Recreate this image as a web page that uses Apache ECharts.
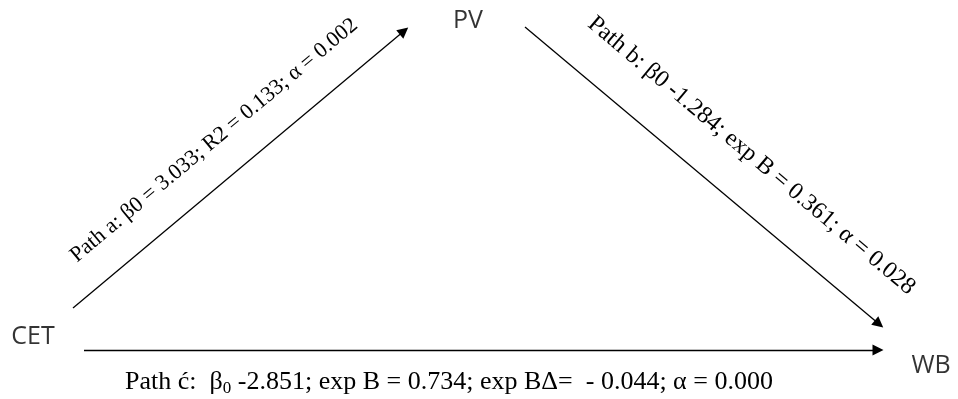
<!DOCTYPE html>
<html>
<head>
<meta charset="utf-8">
<script src="https://cdn.jsdelivr.net/npm/echarts@6/dist/echarts.min.js"></script>
<style>
  html, body { margin: 0; padding: 0; background: #fff; }
  #chart { width: 958px; height: 399px; }
</style>
</head>
<body>
<div id="chart"></div>
<script>
  // nodes of the path diagram (position on the 958 x 399 layout)
  const nodeNames = ['CET', 'PV', 'WB'];
  const nodeX = [33, 468, 931];
  const nodeY = [337, 21, 366];

  // arrows: start and end point of every path
  const pathNames = ['a', 'b', 'c'];
  const pathFrom = [[73, 308], [525, 27], [84, 350]];
  const pathTo = [[404, 31], [879, 324], [878, 350]];
  const pathTexts = [
    'Path a: β0 = 3.033; R2 = 0.133; α = 0.002',
    'Path b: β0 -1.284; exp B = 0.361; α = 0.028',
    '{t|Path ć:  β}{s|0}{t| -2.851; exp B = 0.734; exp BΔ=  - 0.044; α = 0.000}'
  ];

  const serif = '"Liberation Serif", "DejaVu Serif", serif';

  // label placement for each path (side of the line, gap, shift along the line)
  const labelPos = ['middle', 'middle', 'insideMiddleBottom'];
  const labelGap = [27, 35, 18];
  const labelPad = [[0, 0, 0, 0], [0, 0, 0, 50], [0, 64, 0, 0]];
  const labelSize = [22, 24, 26];

  const myChart = echarts.init(document.getElementById('chart'));

  const option = {
    animation: false,
    grid: { left: 0, right: 0, top: 0, bottom: 0 },
    xAxis: { type: 'value', min: 0, max: 958, show: false },
    yAxis: { type: 'value', min: 0, max: 399, inverse: true, show: false },
    series: [
      {
        type: 'lines',
        coordinateSystem: 'cartesian2d',
        symbol: ['none', 'triangle'],
        symbolSize: 11,
        lineStyle: { color: '#000', width: 1.3, opacity: 1, curveness: 0 },
        data: pathNames.map((n, i) => ({
          name: n,
          coords: [pathFrom[i], pathTo[i]],
          label: {
            show: true,
            position: labelPos[i],
            distance: labelGap[i],
            padding: labelPad[i],
            formatter: pathTexts[i],
            color: '#000',
            fontFamily: serif,
            fontSize: labelSize[i],
            rich: {
              t: { fontFamily: serif, fontSize: 26, lineHeight: 29, color: '#000' },
              s: { fontFamily: serif, fontSize: 17, lineHeight: 17, verticalAlign: 'bottom', color: '#000' }
            }
          }
        }))
      },
      {
        type: 'scatter',
        symbolSize: 0,
        silent: true,
        label: {
          show: true,
          position: 'inside',
          formatter: '{b}',
          color: '#000',
          fontFamily: '"Open Sans", "Noto Sans", sans-serif',
          fontSize: 25
        },
        data: nodeNames.map((n, i) => ({ name: n, value: [nodeX[i], nodeY[i]] }))
      }
    ]
  };

  myChart.setOption(option);
  window.addEventListener('resize', () => {
    myChart.resize();
  });
</script>
</body>
</html>
